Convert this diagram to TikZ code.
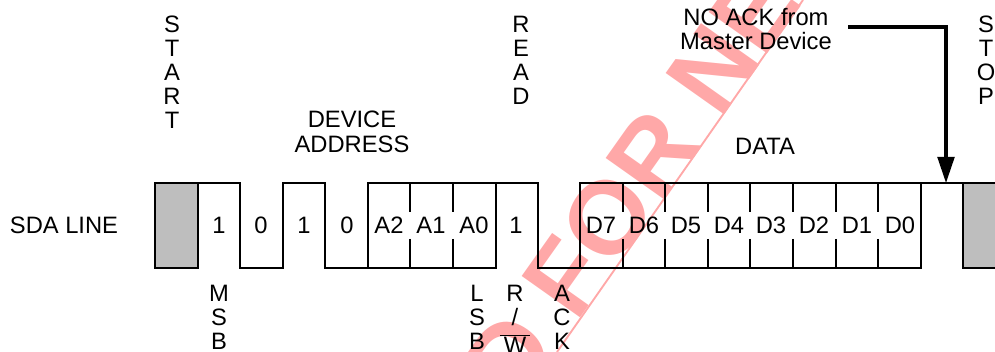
\documentclass[tikz,border=0pt]{standalone}
\usepackage{fontspec}
\setmainfont{Liberation Sans}
\usetikzlibrary{arrows.meta}
\definecolor{stampred}{RGB}{255,168,168}
\definecolor{boxgray}{RGB}{190,190,190}
\tikzset{
	label/.style={font=\fontsize{17.8pt}{18pt}\selectfont,inner sep=0pt,align=center},
	stacked/.style={label},
	wave/.style={line width=1.6pt,line join=miter},
	stamp/.style={font=\bfseries\fontsize{78pt}{78pt}\selectfont,text=stampred,inner sep=0pt,rotate=54.7}
}
\begin{document}
\begin{tikzpicture}[x=0.75pt,y=-0.75pt]
\useasboundingbox (0,0) rectangle (995,352);
\begin{scope}
\clip (0,0) rectangle (995,352);
\node[stamp] (stamp) at (631,185) {D FOR NE};
\coordinate (under0) at (557,352);
\coordinate (under1) at (803,0);
\draw[stampred,line width=1.4pt] (under0) -- (under1);
\end{scope}
\fill[boxgray] (155,183) rectangle (198,268);
\fill[boxgray] (963,183) rectangle (995,268);
\draw[wave] (995,268) -- (963,268) -- (963,183) -- (995,183);
\draw[wave] (198,183) -- (155,183) -- (155,268) -- (198,268) -- (198,183) -- (240,183) -- (240,268) -- (283,268) -- (283,183) -- (325,183) -- (325,268) -- (368,268) -- (368,183) -- (538,183) -- (538,268) -- (921,268) -- (921,183) -- (963,183);
\draw[wave] (368,268) -- (496,268) -- (496,183);
\draw[wave] (580,268) -- (580,183) -- (921,183);
\foreach \x in {410,453,623,665,708,750,793,836,878} {
	\draw[wave] (\x,183) -- (\x,212);
	\draw[wave] (\x,239) -- (\x,268);
}
\foreach \x/\t in {219/1,261/0,304/1,347/0,389/A2,431/A1,474/A0,516/1,
	601/D7,644/D6,686/D5,729/D4,771/D3,814/D2,857/D1,900/D0} {
	\node[label,anchor=base] (bit\x) at (\x,234) {\t};
}
\node[label,anchor=base] (sda) at (64,234) {SDA LINE};
\node[label] (devaddr) at (352,132) {DEVICE\\[1pt]ADDRESS};
\node[label] (datalabel) at (765,146) {DATA};
\node[label] (noack) at (756,29) {NO ACK from\\[0pt]Master Device};
\node[stacked,anchor=north] (start) at (172,16) {S\\T\\A\\R\\T};
\node[stacked,anchor=north] (read) at (521,16) {R\\E\\A\\D};
\node[stacked,anchor=north] (stop) at (986,16) {S\\T\\O\\P};
\node[stacked,anchor=north] (msb) at (219,285) {M\\S\\B};
\node[stacked,anchor=north] (lsb) at (477,285) {L\\S\\B};
\node[stacked,anchor=north] (ack) at (562,285) {A\\C\\K};
\node[stacked,anchor=north] (rw) at (515,285) {R\\/\\[3pt]$\overline{\mbox{\,W\,}}$};
\coordinate (arrowstart) at (848,27);
\coordinate (arrowend) at (946,183);
\draw[line width=2.3pt,-{Triangle[length=19.5pt,width=12.5pt]}] (arrowstart) -| (arrowend);
\end{tikzpicture}
\end{document}
